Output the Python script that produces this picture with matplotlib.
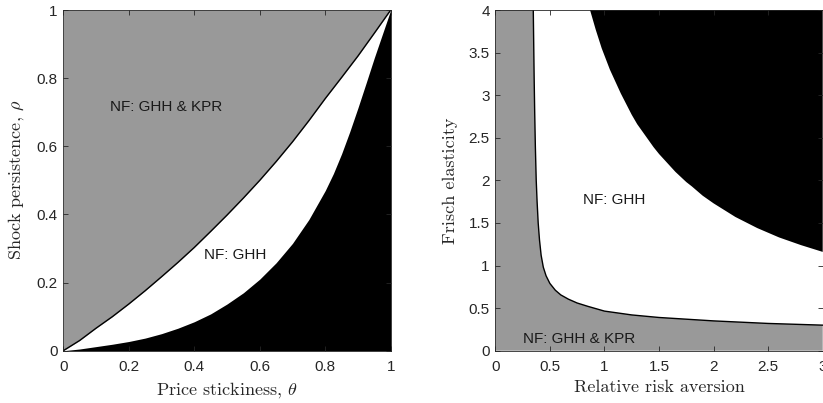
import numpy as np
import matplotlib
matplotlib.use("Agg")
import matplotlib.pyplot as plt

# ---- Left panel: price stickiness vs shock persistence ----
theta_upper = [0.0, 0.05, 0.1, 0.15, 0.2, 0.25, 0.3, 0.35, 0.4, 0.45, 0.5,
               0.55, 0.6, 0.65, 0.7, 0.75, 0.8, 0.85, 0.9, 0.95, 1.0]
rho_upper = [0.0, 0.030, 0.066, 0.100, 0.137, 0.176, 0.217, 0.259, 0.303, 0.350, 0.398,
             0.448, 0.500, 0.555, 0.613, 0.675, 0.740, 0.802, 0.865, 0.932, 1.0]

theta_lower = [0.0, 0.05, 0.1, 0.15, 0.2, 0.25, 0.3, 0.35, 0.4, 0.45, 0.5, 0.55, 0.6,
               0.65, 0.7, 0.75, 0.8, 0.825, 0.85, 0.875, 0.9, 0.925, 0.95, 0.975, 1.0]
rho_lower = [0.0, 0.005, 0.012, 0.019, 0.027, 0.037, 0.050, 0.066, 0.085, 0.108, 0.137,
             0.170, 0.210, 0.258, 0.315, 0.385, 0.470, 0.520, 0.578, 0.643, 0.713,
             0.786, 0.860, 0.930, 1.0]

# ---- Right panel: relative risk aversion vs Frisch elasticity ----
rra_lower = [0.348, 0.352, 0.356, 0.361, 0.367, 0.375, 0.383, 0.393, 0.405, 0.42, 0.44,
             0.465, 0.50, 0.55, 0.60, 0.67, 0.75, 0.85, 1.0, 1.25, 1.5, 1.75, 2.0, 2.25,
             2.5, 2.75, 3.0]
frisch_lower = [4.0, 3.6, 3.2, 2.8, 2.4, 2.0, 1.75, 1.5, 1.3, 1.12, 0.98,
                0.88, 0.79, 0.71, 0.655, 0.605, 0.56, 0.52, 0.465, 0.42, 0.39, 0.37, 0.35, 0.335,
                0.32, 0.31, 0.30]

rra_upper = [0.868, 0.92, 0.975, 1.05, 1.15, 1.25, 1.3, 1.35, 1.4, 1.45, 1.5, 1.55, 1.6,
             1.65, 1.7, 1.75, 1.8, 1.9, 2.0, 2.2, 2.4, 2.6, 2.8, 3.0]
frisch_upper = [4.0, 3.77, 3.55, 3.30, 3.02, 2.77, 2.66, 2.57, 2.48, 2.39, 2.31, 2.24, 2.17,
                2.10, 2.04, 1.98, 1.93, 1.82, 1.73, 1.57, 1.44, 1.33, 1.24, 1.16]

left_xticks = [0, 0.2, 0.4, 0.6, 0.8, 1]
left_xticklabels = ["0", "0.2", "0.4", "0.6", "0.8", "1"]
left_yticks = [0, 0.2, 0.4, 0.6, 0.8, 1]
left_yticklabels = ["0", "0.2", "0.4", "0.6", "0.8", "1"]
right_xticks = [0, 0.5, 1, 1.5, 2, 2.5, 3]
right_xticklabels = ["0", "0.5", "1", "1.5", "2", "2.5", "3"]
right_yticks = [0, 0.5, 1, 1.5, 2, 2.5, 3, 3.5, 4]
right_yticklabels = ["0", "0.5", "1", "1.5", "2", "2.5", "3", "3.5", "4"]

GRAY = (0.6, 0.6, 0.6)
INK = "#262626"
TICK_FONT = "Liberation Sans"

plt.rcParams["mathtext.fontset"] = "cm"

fig = plt.figure(figsize=(8.23, 4.03), dpi=100)
ax1 = fig.add_axes([63.3 / 823, (403 - 350.7) / 403, 327.4 / 823, 340.7 / 403])
ax2 = fig.add_axes([495.3 / 823, (403 - 350.7) / 403, 327.4 / 823, 340.7 / 403])


def style(ax, xt, xtl, yt, ytl, xlim, ylim):
    ax.set_xlim(*xlim)
    ax.set_ylim(*ylim)
    ax.set_xticks(xt)
    ax.set_xticklabels(xtl)
    ax.set_yticks(yt)
    ax.set_yticklabels(ytl)
    ax.tick_params(direction="in", length=3.5, width=0.6, color=INK,
                   top=True, right=True, labelsize=11, labelcolor=INK)
    ax.tick_params(axis="x", pad=7)
    ax.tick_params(axis="y", pad=4)
    for lab in ax.get_xticklabels() + ax.get_yticklabels():
        lab.set_family(TICK_FONT)
    for sp in ax.spines.values():
        sp.set_color(INK)
        sp.set_linewidth(0.6)
        sp.set_zorder(5)


# Left panel regions
ax1.set_facecolor("white")
ax1.fill_between(theta_upper, rho_upper, 1, color=GRAY, lw=0)
ax1.fill_between(theta_lower, 0, rho_lower, color="black", lw=0)
ax1.plot(theta_upper, rho_upper, color="black", lw=1.0)
style(ax1, left_xticks, left_xticklabels, left_yticks, left_yticklabels, (0, 1), (0, 1))
ax1.set_xlabel(r"Price stickiness, $\theta$", family="cmr10", fontsize=13, color=INK, labelpad=4)
ax1.set_ylabel(r"Shock persistence, $\rho$", family="cmr10", fontsize=13, color=INK, labelpad=8)
ax1.text(0.143, 0.715, "NF: GHH & KPR", family=TICK_FONT, fontsize=11, color="#1a1a1a",
         va="center", ha="left")
ax1.text(0.43, 0.281, "NF: GHH", family=TICK_FONT, fontsize=11, color="#1a1a1a",
         va="center", ha="left")

# Right panel regions
xmin, xmax = 0, 3
ymin, ymax = 0, 4
ax2.set_facecolor("white")
ax2.fill(np.concatenate([[xmin], rra_lower, [xmax, xmin]]),
         np.concatenate([[ymax], frisch_lower, [ymin, ymin]]), color=GRAY, lw=0)
ax2.fill(np.concatenate([rra_upper, [xmax]]),
         np.concatenate([frisch_upper, [ymax]]), color="black", lw=0)
ax2.plot(rra_lower, frisch_lower, color="black", lw=1.0)
style(ax2, right_xticks, right_xticklabels, right_yticks, right_yticklabels, (xmin, xmax), (ymin, ymax))
ax2.set_xlabel("Relative risk aversion", family="cmr10", fontsize=13, color=INK, labelpad=4)
ax2.set_ylabel("Frisch elasticity", family="cmr10", fontsize=13, color=INK, labelpad=8)
ax2.text(0.806, 1.77, "NF: GHH", family=TICK_FONT, fontsize=11, color="#1a1a1a",
         va="center", ha="left")
ax2.text(0.251, 0.137, "NF: GHH & KPR", family=TICK_FONT, fontsize=11, color="#1a1a1a",
         va="center", ha="left")

fig.savefig("out.png", dpi=100)
